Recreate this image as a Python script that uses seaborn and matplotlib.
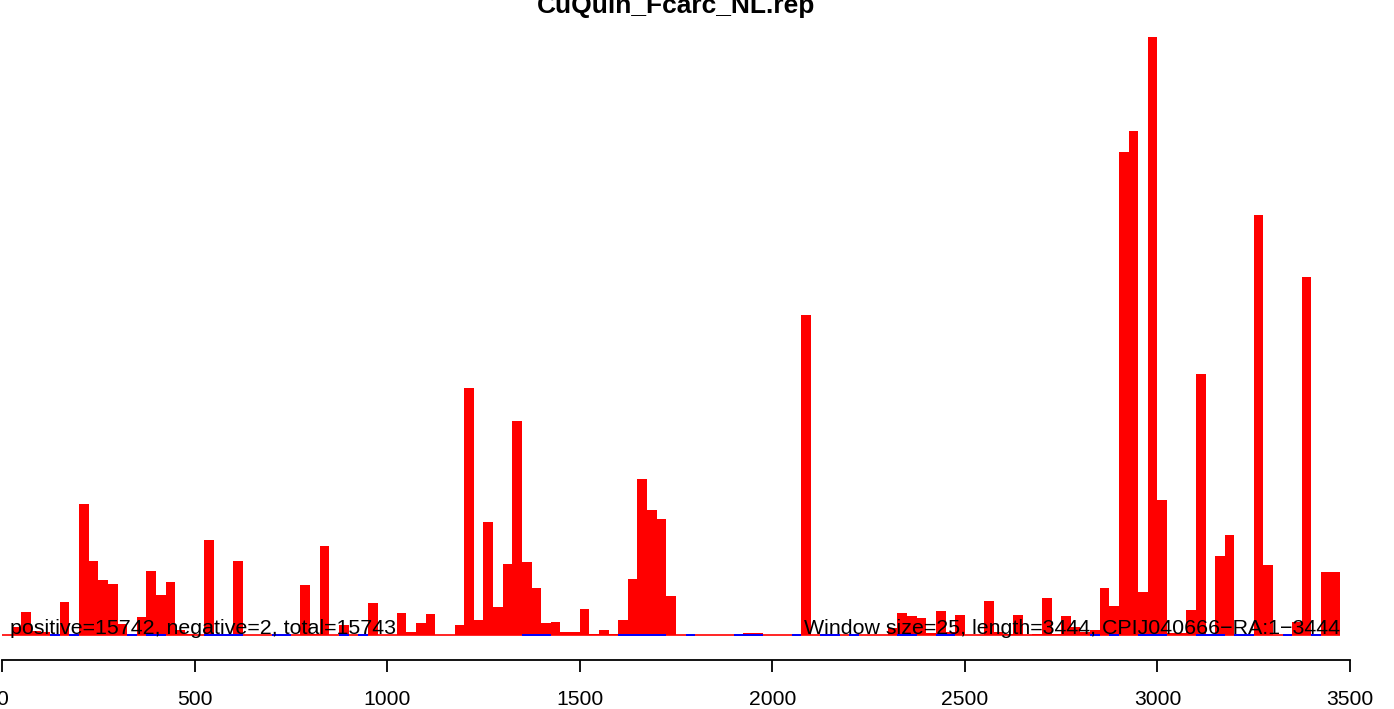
import matplotlib
matplotlib.use("Agg")
import matplotlib.pyplot as plt
import seaborn as sns
import numpy as np
import pandas as pd

## data: reads per 25 bp window (positive strand)

window = 25
seq_length = 3444
title = "CuQuin_Fcarc_NL.rep"

positive_counts = [
    0, 8, 23, 4, 3, 0, 33, 0, 131, 74,          # 0 - 250
    55, 51, 11, 0, 18, 64, 40, 53, 5, 1,        # 250 - 500
    0, 95, 0, 0, 74, 0, 0, 0, 0, 0,             # 500 - 750
    0, 50, 1, 89, 0, 10, 0, 0, 32, 0,           # 750 - 1000
    0, 22, 3, 12, 21, 0, 0, 10, 247, 15,        # 1000 - 1250
    113, 28, 71, 214, 73, 47, 12, 13, 3, 3,     # 1250 - 1500
    26, 1, 5, 1, 15, 56, 156, 125, 116, 39,     # 1500 - 1750
    0, 0, 0, 0, 0, 0, 0, 2, 2, 0,               # 1750 - 2000
    0, 0, 0, 320, 0, 0, 0, 0, 0, 0,             # 2000 - 2250
    0, 0, 7, 22, 19, 17, 2, 24, 3, 20,          # 2250 - 2500
    0, 0, 34, 3, 1, 20, 0, 1, 37, 1,            # 2500 - 2750
    19, 8, 3, 5, 47, 29, 483, 504, 43, 598,     # 2750 - 3000
    135, 2, 2, 25, 261, 0, 79, 100, 0, 0,       # 3000 - 3250
    420, 70, 0, 0, 13, 358, 0, 63, 63,          # 3250 - 3475
]

# windows where the (empty) negative-strand bar shows as a blue line
negative_windows = [5, 7, 13, 15, 16, 21, 22, 23, 24, 28, 29, 35, 37,
                    54, 55, 56, 64, 65, 66, 67, 68, 71, 76, 77, 78, 82,
                    85, 86, 88, 93, 94, 97, 98, 113, 115, 118, 119, 120,
                    124, 125, 126, 128, 129, 133, 136]

n_positive = 15742
n_negative = 2
n_total = 15743
gene = "CPIJ040666\u2212RA:1\u2212" + str(seq_length)

xticks = [0, 500, 1000, 1500, 2000, 2500, 3000, 3500]

n_win = len(positive_counts)
df = pd.DataFrame({
    "start": np.arange(n_win) * window,
    "count": positive_counts,
})
df["mid"] = df["start"] + window / 2
end = n_win * window

sns.set_style("white")
plt.rcParams['font.family'] = ['Liberation Sans', 'DejaVu Sans']
plt.rcParams['text.color'] = 'black'
plt.rcParams['xtick.color'] = 'black'
plt.rcParams['xtick.labelcolor'] = 'black'

fig = plt.figure(figsize=(13.94, 7.09), dpi=100)
ax = fig.add_axes([0, 1 - 660 / 709, 1, 660 / 709])

sns.histplot(data=df, x="mid", weights="count", binwidth=window,
             binrange=(0, end), color="red", alpha=1, linewidth=0,
             ax=ax, zorder=2)

# zero-height bars drawn as lines on the baseline
ax.hlines(0, 0, end, color="red", lw=1.2, zorder=3)
neg = np.array(negative_windows)
ax.hlines(np.zeros(len(neg)), neg * window, (neg + 1) * window,
          color="blue", lw=1.4, zorder=4)

ax.text(20, 1.5, "positive=%d, negative=%d, total=%d" % (n_positive, n_negative, n_total),
        ha="left", va="baseline", fontsize=15.4, color="black", zorder=5)
ax.text(end, 1.5, "Window size=%d, length=%d, %s" % (window, seq_length, gene),
        ha="right", va="baseline", fontsize=15.4, color="black", zorder=5)
ax.text(1750, 622, title, ha="center", va="baseline", fontsize=19,
        fontweight="bold", color="black")

ax.set_xlim(-2 / 0.38514, (1394 - 2) / 0.38514)
ax.set_ylim(-25, 635)
ax.set_xlabel("")
ax.set_ylabel("")
ax.set_yticks([])
ax.set_xticks(xticks)
ax.set_xticklabels([str(t) for t in xticks])
ax.tick_params(axis="x", direction="out", length=8.6, width=1.3, pad=13,
               labelsize=15.2, bottom=True, color="black", labelcolor="black")
for side in ["left", "right", "top"]:
    ax.spines[side].set_visible(False)
ax.spines["bottom"].set_bounds(0, 3500)
ax.spines["bottom"].set_linewidth(1.3)
ax.spines["bottom"].set_color("black")
ax.patch.set_alpha(0)

plt.savefig("out.png", dpi=100)
